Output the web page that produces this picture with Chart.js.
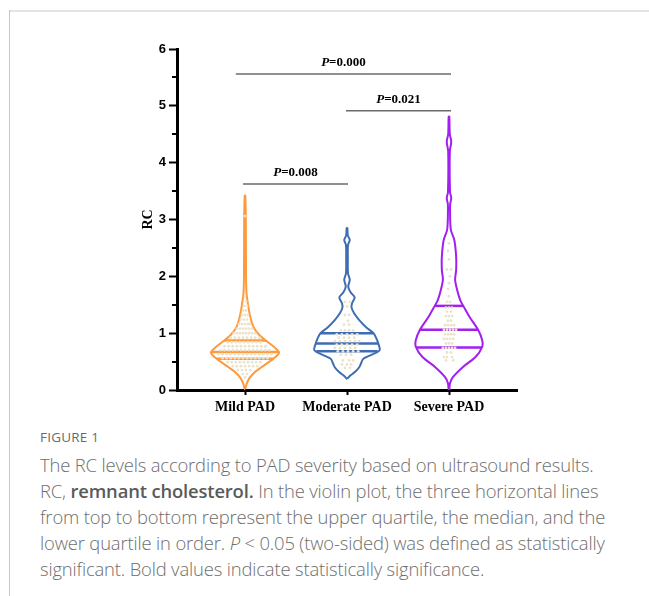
<!DOCTYPE html>
<html>
<head>
<meta charset="utf-8">
<script src="https://cdn.jsdelivr.net/npm/chart.js@4.4.0/dist/chart.umd.min.js"></script>
<style>
  html, body { margin: 0; padding: 0; background: #fff; }
  body { width: 649px; height: 596px; position: relative; overflow: hidden; }
  .rule-top { position: absolute; left: 9px; top: 10px; width: 640px; height: 2px; background: #e4e4e4; }
  .rule-left { position: absolute; left: 9px; top: 10px; width: 1px; height: 586px; background: #c6c6c6; }
  #wrap { position: absolute; left: 0; top: 0; width: 649px; height: 420px; }
  .fig { position: absolute; left: 40px; top: 429px; font: 13.5px/16px 'Open Sans', sans-serif; color: #6a6a6a; letter-spacing: 0.2px; }
  .text { position: absolute; left: 40px; top: 452px; font: 300 18.4px/26px 'Open Sans', sans-serif; color: #6e6e6e; white-space: nowrap; letter-spacing: -0.15px; }
  .text b { font-weight: 600; color: #5a5a5a; }
</style>
</head>
<body>
<div class="rule-top"></div>
<div class="rule-left"></div>
<div id="wrap"><canvas id="c" width="649" height="420"></canvas></div>
<div class="fig">FIGURE 1</div>
<div class="text">The RC levels according to PAD severity based on ultrasound results.<br>RC, <b>remnant cholesterol.</b> In the violin plot, the three horizontal lines<br>from top to bottom represent the upper quartile, the median, and the<br>lower quartile in order. <i>P</i> &lt; 0.05 (two-sided) was defined as statistically<br>significant. Bold values indicate statistically significance.</div>
<script>
// groups along the x axis
const categories = ['Mild PAD', 'Moderate PAD', 'Severe PAD'];
const colors = ['#ff9a3c', '#3f6db3', '#a21ff0'];
const dotColor = '#ebe3ca';

// violin outlines: [RC value, half width in x units]
const mildOutline = [
  [0.02, 0.003], [0.1, 0.015], [0.2, 0.04], [0.32, 0.1], [0.4, 0.16], [0.5, 0.24],
  [0.6, 0.31], [0.66, 0.335], [0.75, 0.29], [0.85, 0.22], [0.95, 0.15], [1.1, 0.085],
  [1.3, 0.05], [1.5, 0.03], [1.7, 0.015], [2.0, 0.01], [3.0, 0.008], [3.42, 0.003],
];
const moderateOutline = [
  [0.2, 0.003], [0.25, 0.03], [0.32, 0.08], [0.4, 0.12], [0.48, 0.14], [0.55, 0.16],
  [0.62, 0.24], [0.7, 0.32], [0.8, 0.31], [0.9, 0.29], [1.0, 0.26], [1.1, 0.19],
  [1.23, 0.12], [1.35, 0.07], [1.45, 0.045], [1.53, 0.05], [1.63, 0.075], [1.72, 0.035],
  [1.82, 0.012], [1.94, 0.027], [2.05, 0.01], [2.3, 0.008], [2.55, 0.01], [2.64, 0.027],
  [2.72, 0.008], [2.85, 0.003],
];
const severeOutline = [
  [0.0, 0.003], [0.12, 0.01], [0.23, 0.04], [0.41, 0.14], [0.58, 0.26], [0.76, 0.325],
  [0.88, 0.325], [1.06, 0.285], [1.29, 0.2], [1.48, 0.14], [1.58, 0.11], [1.76, 0.08],
  [1.94, 0.06], [2.11, 0.07], [2.35, 0.07], [2.64, 0.052], [2.82, 0.018], [3.17, 0.01],
  [3.28, 0.012], [3.38, 0.022], [3.48, 0.01], [4.2, 0.008], [4.37, 0.022], [4.5, 0.008],
  [4.81, 0.003],
];

// lower quartile, median, upper quartile
const mildQuartiles = [0.55, 0.67, 0.87];
const moderateQuartiles = [0.68, 0.82, 1.0];
const severeQuartiles = [0.75, 1.06, 1.48];

// individual observations: [RC value, [offsets from group centre]]
const mildDots = [
  [3.06, [0]], [1.64, [0]], [1.56, [0.01]], [1.48, [-0.01, 0.02]], [1.4, [-0.02, 0.01]],
  [1.32, [-0.03, 0, 0.03]], [1.24, [-0.04, -0.01, 0.02]], [1.16, [-0.06, -0.03, 0, 0.03, 0.05]],
  [1.08, [-0.08, -0.05, -0.02, 0.01, 0.04, 0.07]],
  [1.0, [-0.11, -0.08, -0.05, -0.02, 0.01, 0.04, 0.07, 0.1]],
  [0.92, [-0.14, -0.1, -0.06, -0.02, 0.02, 0.06, 0.1, 0.14]],
  [0.84, [-0.17, -0.13, -0.09, -0.05, -0.01, 0.03, 0.07, 0.11, 0.15]],
  [0.77, [-0.2, -0.16, -0.12, -0.08, -0.04, 0, 0.04, 0.08, 0.12, 0.16, 0.2]],
  [0.7, [-0.24, -0.2, -0.16, -0.12, -0.08, -0.04, 0, 0.04, 0.08, 0.12, 0.16, 0.2, 0.24]],
  [0.63, [-0.26, -0.22, -0.18, -0.14, -0.1, -0.06, -0.02, 0.02, 0.06, 0.1, 0.14, 0.18, 0.22, 0.26]],
  [0.56, [-0.22, -0.18, -0.14, -0.1, -0.06, -0.02, 0.02, 0.06, 0.1, 0.14, 0.18, 0.22]],
  [0.49, [-0.17, -0.13, -0.09, -0.05, -0.01, 0.03, 0.07, 0.11, 0.15]],
  [0.42, [-0.12, -0.08, -0.04, 0, 0.04, 0.08, 0.12]],
  [0.35, [-0.07, -0.03, 0.01, 0.05]], [0.28, [-0.02, 0.02]], [0.22, [0]],
];
const moderateDots = [
  [1.55, [-0.02, 0.03]], [1.47, [0]], [1.32, [-0.02, 0.02]], [1.22, [0.01]], [1.15, [-0.03, 0.02]],
  [1.05, [-0.06, -0.02, 0.02, 0.06]], [0.98, [-0.1, -0.05, 0, 0.05, 0.1]],
  [0.92, [-0.08, -0.03, 0.02, 0.07]], [0.86, [-0.12, -0.07, -0.02, 0.03, 0.08, 0.12]],
  [0.8, [-0.1, -0.05, 0, 0.05, 0.1]], [0.74, [-0.12, -0.07, -0.02, 0.03, 0.08]],
  [0.68, [-0.09, -0.04, 0.01, 0.06, 0.11]], [0.62, [-0.06, -0.01, 0.04]],
  [0.52, [-0.04, 0.02, 0.06]], [0.45, [-0.05, 0, 0.04]], [0.39, [-0.02, 0.03]],
];
const severeDots = [
  [2.58, [0]], [2.45, [-0.01]], [2.3, [0]], [2.12, [-0.02, 0.02]], [2.0, [0.01]], [1.88, [0]],
  [1.78, [-0.01]], [1.65, [0]], [1.55, [-0.02, 0.01]], [1.45, [-0.03, 0, 0.03]],
  [1.38, [-0.02, 0.02]], [1.3, [-0.03, 0, 0.03]], [1.22, [-0.01, 0.02]],
  [1.14, [-0.04, -0.01, 0.02, 0.05]], [1.06, [-0.05, -0.02, 0.01, 0.04, 0.07]],
  [0.98, [-0.04, -0.01, 0.02, 0.05]], [0.9, [-0.05, -0.02, 0.01, 0.04]],
  [0.82, [-0.03, 0, 0.03]], [0.74, [-0.06, -0.03, 0, 0.03, 0.06]], [0.66, [-0.02, 0.02]],
  [0.58, [-0.05, -0.02, 0.03]], [0.52, [-0.03, 0.04]],
];

// significance brackets
const pValues = ['0.000', '0.021', '0.008'];
const pLevels = [5.56, 4.915, 3.625];
const pFrom = [0.91, 1.99, 0.98];
const pTo = [3.02, 3.02, 2.01];

const yMinorTicks = [0.5, 1.5, 2.5, 3.5, 4.5, 5.5];

const outlines = [mildOutline, moderateOutline, severeOutline];
const quartiles = [mildQuartiles, moderateQuartiles, severeQuartiles];
const dots = [mildDots, moderateDots, severeDots];

function outlinePoints(center, levels) {
  const right = levels.map(([v, w]) => ({ x: center + w, y: v }));
  const left = levels.slice().reverse().map(([v, w]) => ({ x: center - w, y: v }));
  return right.concat(left, [right[0]]);
}

function widthAt(levels, v) {
  for (let i = 1; i < levels.length; i++) {
    const [v0, w0] = levels[i - 1];
    const [v1, w1] = levels[i];
    if (v >= v0 && v <= v1) return w0 + (w1 - w0) * (v - v0) / (v1 - v0);
  }
  return 0;
}

const datasets = [];
categories.forEach((name, i) => {
  const center = i + 1;
  const pts = [];
  dots[i].forEach(([v, offs]) => offs.forEach((d) => pts.push({ x: center + d, y: v })));
  datasets.push({
    label: name + ' points', data: pts, showLine: false, order: 0,
    pointRadius: 1.4, pointBorderWidth: 0, pointBackgroundColor: dotColor,
  });
  datasets.push({
    label: name, data: outlinePoints(center, outlines[i]), order: 2,
    borderColor: colors[i], borderWidth: 2, tension: 0.3, pointRadius: 0, fill: false,
  });
  quartiles[i].forEach((q) => {
    const w = widthAt(outlines[i], q);
    datasets.push({
      label: name + ' q', data: [{ x: center - w, y: q }, { x: center + w, y: q }], order: 1,
      borderColor: colors[i], borderWidth: 2.5, pointRadius: 0, tension: 0,
    });
  });
});
pValues.forEach((p, i) => {
  datasets.push({
    label: 'P=' + p, data: [{ x: pFrom[i], y: pLevels[i] }, { x: pTo[i], y: pLevels[i] }],
    borderColor: '#6b6b6b', borderWidth: 1.5, pointRadius: 0, order: 1,
  });
});

const extras = {
  id: 'extras',
  afterDraw(chart) {
    const { ctx, chartArea, scales: { x, y } } = chart;
    ctx.save();
    ctx.strokeStyle = '#000';
    ctx.lineWidth = 2;
    yMinorTicks.forEach((v) => {
      const py = Math.round(y.getPixelForValue(v));
      ctx.beginPath();
      ctx.moveTo(chartArea.left - 5, py);
      ctx.lineTo(chartArea.left, py);
      ctx.stroke();
    });
    ctx.fillStyle = '#000';
    ctx.textBaseline = 'alphabetic';
    pValues.forEach((p, i) => {
      const cx = x.getPixelForValue((pFrom[i] + pTo[i]) / 2);
      const py = y.getPixelForValue(pLevels[i]) - 8;
      const f1 = "italic bold 13px 'Liberation Serif', 'Times New Roman', serif";
      const f2 = "bold 13px 'Liberation Serif', 'Times New Roman', serif";
      ctx.font = f1;
      const w1 = ctx.measureText('P').width;
      ctx.font = f2;
      const w2 = ctx.measureText('=' + p).width;
      const x0 = cx - (w1 + w2) / 2;
      ctx.font = f1;
      ctx.textAlign = 'left';
      ctx.fillText('P', x0, py);
      ctx.font = f2;
      ctx.fillText('=' + p, x0 + w1, py);
    });
    ctx.restore();
  },
};

new Chart(document.getElementById('c'), {
  type: 'line',
  data: { datasets },
  plugins: [extras],
  options: {
    responsive: false,
    animation: false,
    events: [],
    layout: { padding: { left: 136, right: 132, top: 49, bottom: 0 } },
    plugins: { legend: { display: false }, tooltip: { enabled: false } },
    scales: {
      x: {
        type: 'linear', min: 1 / 3, max: 11 / 3,
        afterBuildTicks: (s) => { s.ticks = categories.map((c, i) => ({ value: i + 1 })); },
        afterFit: (s) => { s.height = 30; },
        grid: { drawOnChartArea: false, tickLength: 5, tickWidth: 2, tickColor: '#000' },
        border: { color: '#000', width: 3 },
        ticks: {
          autoSkip: false, maxRotation: 0, padding: 4, color: '#000',
          font: { family: "'Liberation Serif', 'Times New Roman', serif", size: 14, weight: 'bold' },
          callback: (v, i) => categories[i],
        },
      },
      y: {
        min: 0, max: 6,
        afterFit: (s) => { s.width = 41; },
        grid: { drawOnChartArea: false, tickLength: 8, tickWidth: 2, tickColor: '#000' },
        border: { color: '#000', width: 3 },
        ticks: {
          stepSize: 1, padding: 3, color: '#000',
          font: { family: "'Liberation Sans', Arial, sans-serif", size: 13, weight: 'bold' },
        },
        title: {
          display: true, text: 'RC', color: '#000', padding: { top: 4, bottom: 0 },
          font: { family: "'Liberation Serif', 'Times New Roman', serif", size: 14, weight: 'bold' },
        },
      },
    },
  },
});
</script>
</body>
</html>
